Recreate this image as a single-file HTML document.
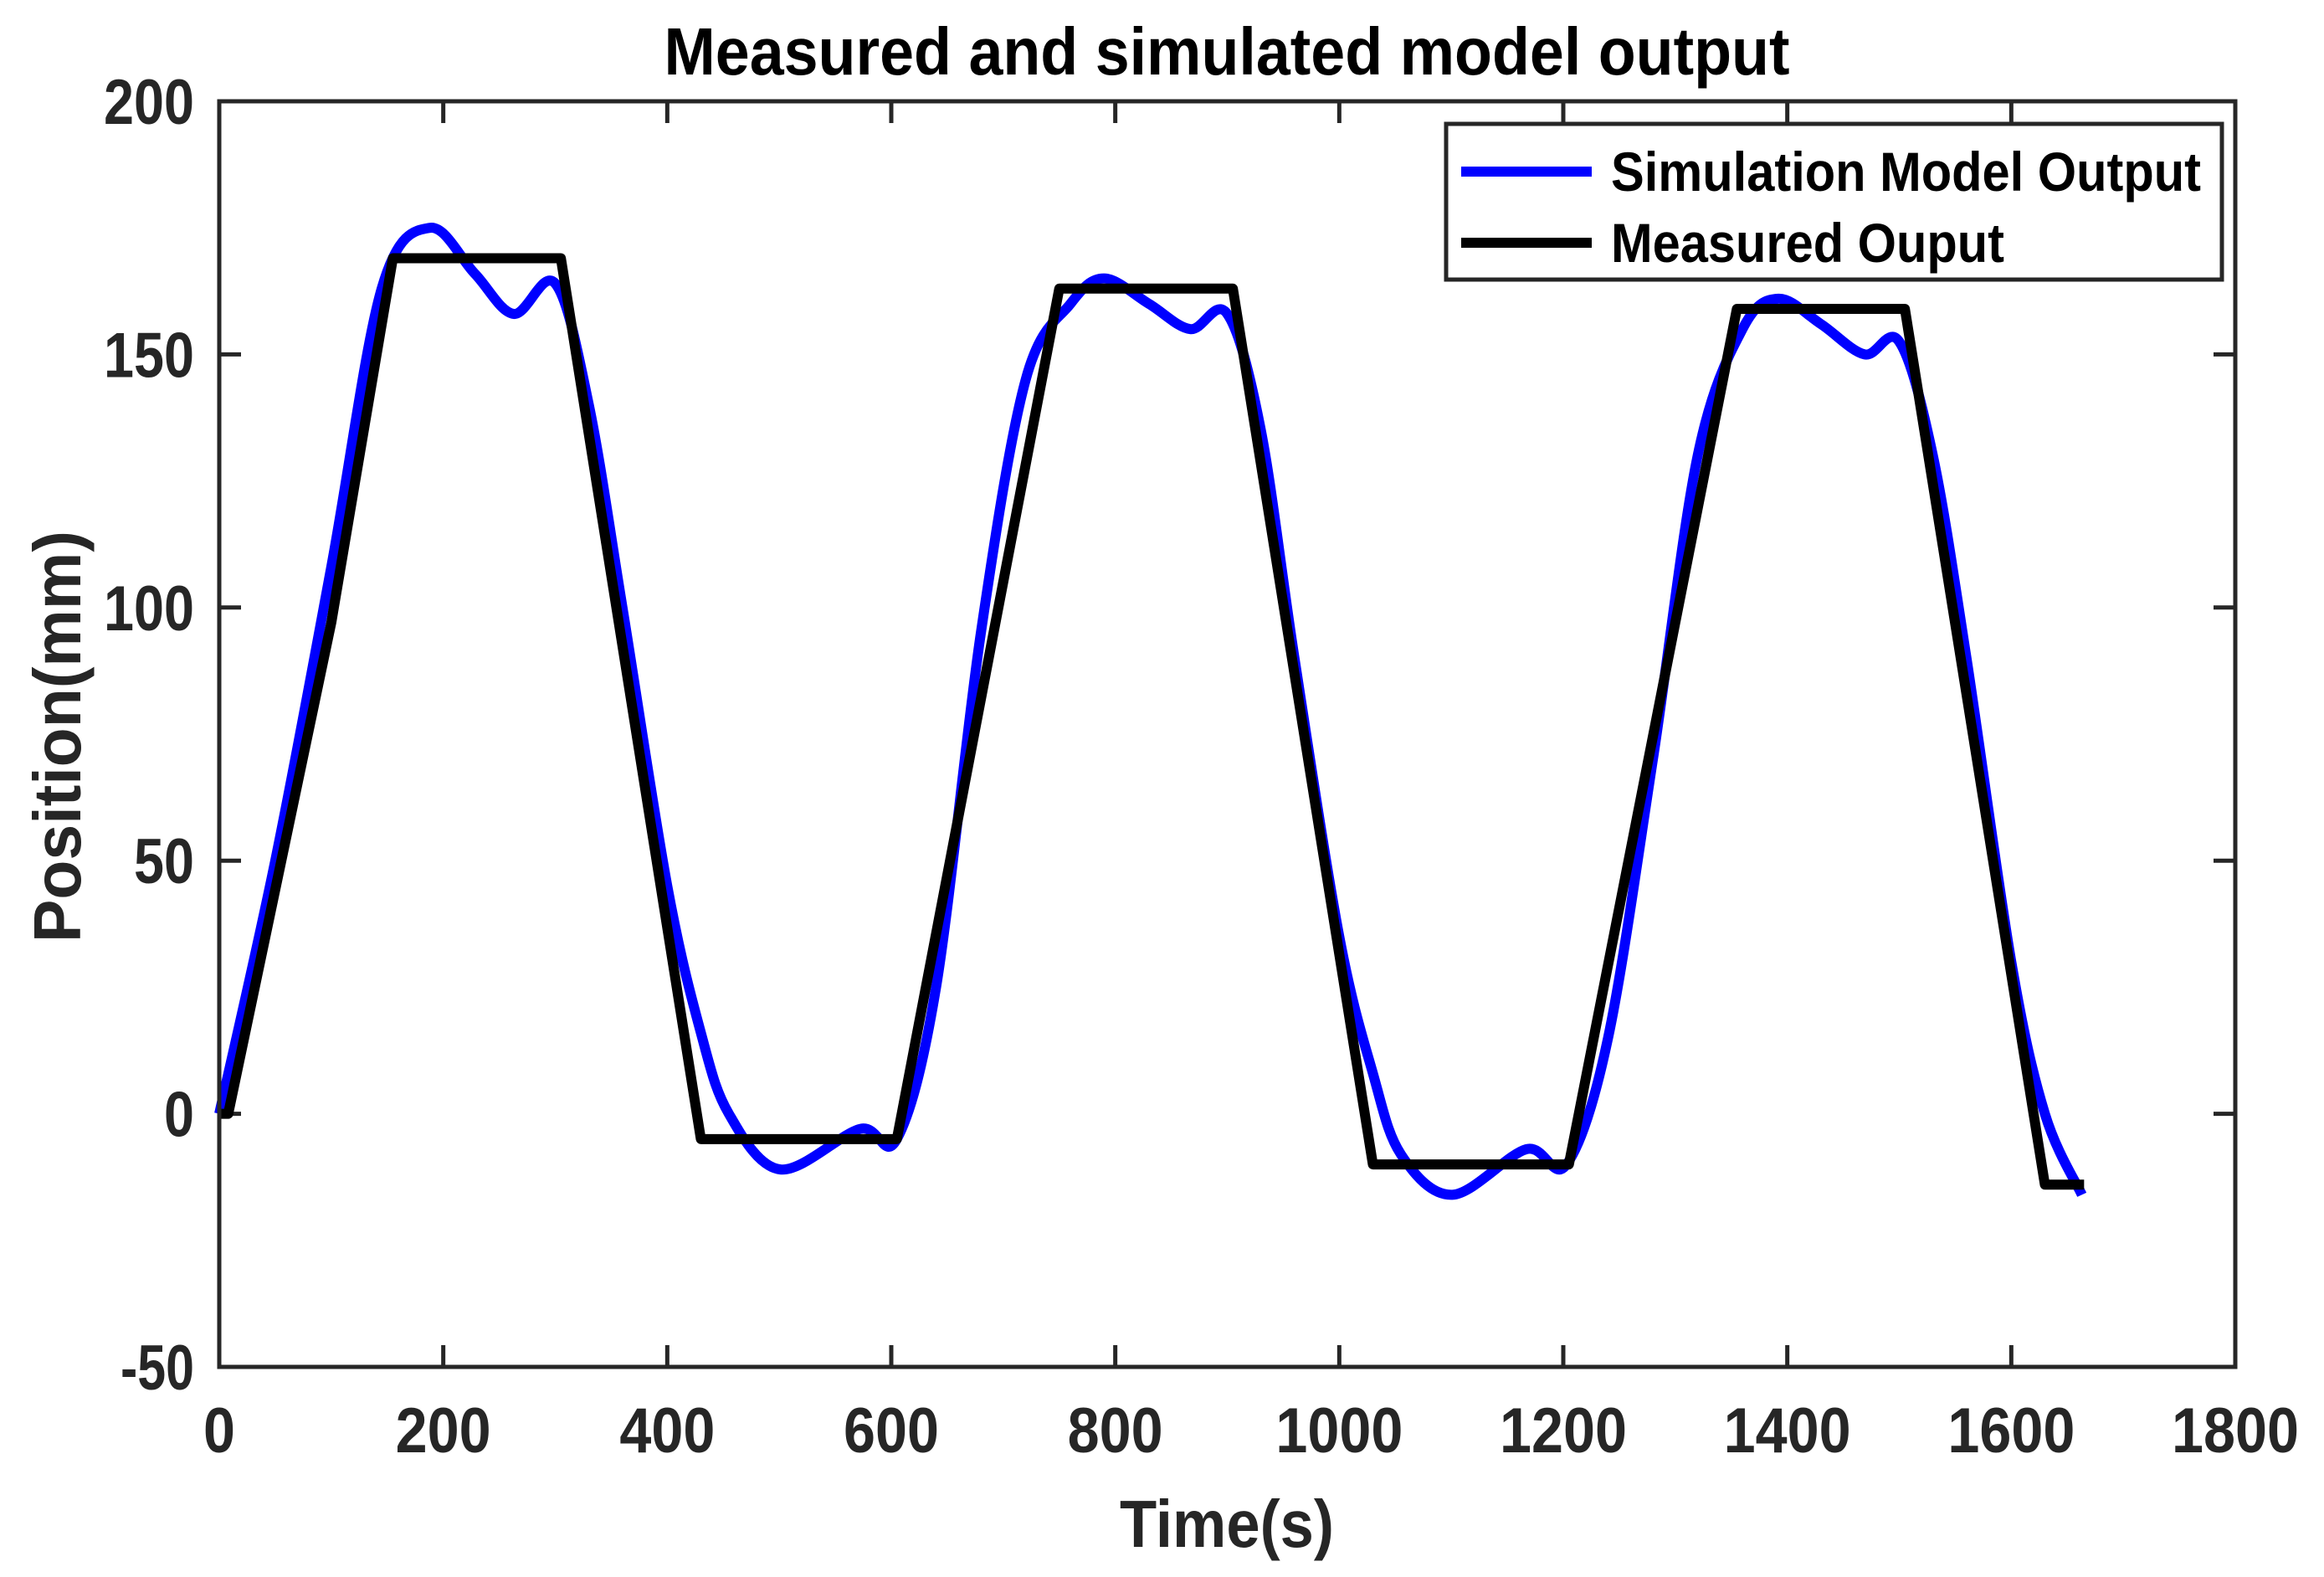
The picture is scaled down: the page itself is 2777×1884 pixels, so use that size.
<!DOCTYPE html>
<html><head><meta charset="utf-8"><style>
html,body{margin:0;padding:0;background:#fff;}
svg{display:block;font-family:"Liberation Sans",Arial,sans-serif;font-weight:bold;}
</style></head><body>
<svg id="chart" width="2777" height="1884" viewBox="0 0 2777 1884" xmlns="http://www.w3.org/2000/svg">
<rect x="0" y="0" width="2777" height="1884" fill="#fff"/>
<text x="1466" y="89" font-size="80" text-anchor="middle" textLength="1345" lengthAdjust="spacingAndGlyphs" fill="#000">Measured and simulated model output</text>
<text x="1466" y="1848" font-size="80" text-anchor="middle" textLength="256" lengthAdjust="spacingAndGlyphs" fill="#262626">Time(s)</text>
<text transform="translate(96,880) rotate(-90)" font-size="80" text-anchor="middle" textLength="492" lengthAdjust="spacingAndGlyphs" fill="#262626">Position(mm)</text>
<g id="ticks"></g>
<g id="series"></g>
<rect x="262" y="121" width="2409" height="1512" fill="none" stroke="#262626" stroke-width="5"/>
<g>
<rect x="1728" y="148" width="927" height="186" fill="#fff" stroke="#262626" stroke-width="5"/>
<line x1="1746" y1="205" x2="1902" y2="205" stroke="#0000ff" stroke-width="12"/>
<text x="1925" y="228" font-size="66" textLength="705" lengthAdjust="spacingAndGlyphs" fill="#000">Simulation Model Output</text>
<line x1="1746" y1="290" x2="1902" y2="290" stroke="#000" stroke-width="12"/>
<text x="1925" y="313" font-size="66" textLength="470" lengthAdjust="spacingAndGlyphs" fill="#000">Measured Ouput</text>
</g>
</svg>
<script>
const xTicks = [0,200,400,600,800,1000,1200,1400,1600,1800];
const yTicks = [-50,0,50,100,150,200];
const measuredT = [0,8,100,155,305,430,605,750,905,1030,1205,1355,1505,1630,1665];
const measuredY = [0,0,97,169,169,-5,-5,163,163,-10,-10,159,159,-14,-14];
const simT = [0,50,100,145,188,228,263,300,330,360,400,430,455,501,572,605,640,680,720,760,790,830,867,900,930,960,1000,1030,1055,1101,1167,1203,1240,1280,1320,1360,1392,1430,1469,1500,1530,1560,1600,1630,1663];
const simY = [0,50,108,163,175,166,158,164,140,100,45,16,0,-11,-3,-5,25,95,145,160,165,160,155,158,135,90,35,8,-8,-16,-7,-10,15,70,130,155,161,156,150,152.5,130,90,30,0,-16];

const L=262,R=2671,T=121,B=1633;
function xs(v){return L+(v-0)/(1800-0)*(R-L);}
function ys(v){return B-(v-(-50))/(200-(-50))*(B-T);}
const NS='http://www.w3.org/2000/svg';
const tg=document.getElementById('ticks');
const sg=document.getElementById('series');
function mk(tag,attrs,parent){const e=document.createElementNS(NS,tag);for(const k in attrs)e.setAttribute(k,attrs[k]);parent.appendChild(e);return e;}

xTicks.forEach(v=>{
  const x=xs(v);
  const a=mk('line',{x1:x,y1:B,x2:x,y2:B-26,stroke:'#262626','stroke-width':5},tg);
  
  
  const b=mk('line',{x1:x,y1:T,x2:x,y2:T+26,stroke:'#262626','stroke-width':5},tg);
  
  
  const s=String(v);
  const t=mk('text',{x:x,y:1735,'font-size':76,'text-anchor':'middle',fill:'#262626',textLength:s.length*38,lengthAdjust:'spacingAndGlyphs'},tg);
  t.textContent=s;
  
  
});
yTicks.forEach(v=>{
  const y=ys(v);
  const a=mk('line',{x1:L,y1:y,x2:L+26,y2:y,stroke:'#262626','stroke-width':5},tg);
  
  
  const b=mk('line',{x1:R,y1:y,x2:R-26,y2:y,stroke:'#262626','stroke-width':5},tg);
  
  
  const s=String(v);
  const w=s.replace('-','').length*36+(s[0]==='-'?16:0);
  const t=mk('text',{x:232,y:y+27,'font-size':76,'text-anchor':'end',fill:'#262626',textLength:w,lengthAdjust:'spacingAndGlyphs'},tg);
  t.textContent=s;
  
  
});

function smoothPath(T_,Y_){
  const p=T_.map((t,i)=>[xs(t),ys(Y_[i])]);
  let d='M'+p[0][0]+','+p[0][1];
  for(let i=0;i<p.length-1;i++){
    const p0=p[i-1]||p[i],p1=p[i],p2=p[i+1],p3=p[i+2]||p2;
    const c1=[p1[0]+(p2[0]-p0[0])/6,p1[1]+(p2[1]-p0[1])/6];
    const c2=[p2[0]-(p3[0]-p1[0])/6,p2[1]-(p3[1]-p1[1])/6];
    d+=' C'+c1[0]+','+c1[1]+' '+c2[0]+','+c2[1]+' '+p2[0]+','+p2[1];
  }
  return d;
}
const sim=mk('path',{d:smoothPath(simT,simY),fill:'none',stroke:'#0000ff','stroke-width':12,'stroke-linejoin':'round'},sg);


const meas=mk('polyline',{points:measuredT.map((t,i)=>xs(t)+','+ys(measuredY[i])).join(' '),fill:'none',stroke:'#000','stroke-width':12,'stroke-linejoin':'round'},sg);


</script>
</body></html>
